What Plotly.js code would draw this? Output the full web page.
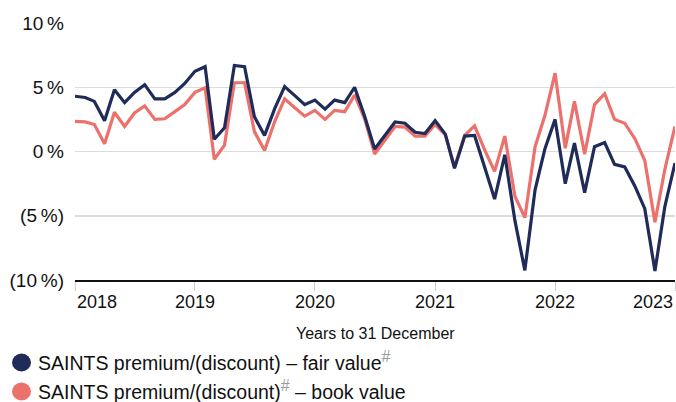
<!DOCTYPE html>
<html>
<head>
<meta charset="utf-8">
<script src="https://cdn.plot.ly/plotly-3.0.1.min.js"></script>
<style>html,body{margin:0;padding:0;background:#fff;}#chart{width:676px;height:402px;}</style>
</head>
<body>
<div id="chart"></div>
<script>
const months = [
 "2018-01-01","2018-02-01","2018-03-01","2018-04-01","2018-05-01","2018-06-01","2018-07-01","2018-08-01","2018-09-01","2018-10-01","2018-11-01","2018-12-01",
 "2019-01-01","2019-02-01","2019-03-01","2019-04-01","2019-05-01","2019-06-01","2019-07-01","2019-08-01","2019-09-01","2019-10-01","2019-11-01","2019-12-01",
 "2020-01-01","2020-02-01","2020-03-01","2020-04-01","2020-05-01","2020-06-01","2020-07-01","2020-08-01","2020-09-01","2020-10-01","2020-11-01","2020-12-01",
 "2021-01-01","2021-02-01","2021-03-01","2021-04-01","2021-05-01","2021-06-01","2021-07-01","2021-08-01","2021-09-01","2021-10-01","2021-11-01","2021-12-01",
 "2022-01-01","2022-02-01","2022-03-01","2022-04-01","2022-05-01","2022-06-01","2022-07-01","2022-08-01","2022-09-01","2022-10-01","2022-11-01","2022-12-01",
 "2023-01-01"
];
const fairValue = [
 4.3, 4.2, 3.9, 2.4, 4.8, 3.8, 4.6, 5.2, 4.1, 4.1, 4.6, 5.3,
 6.25, 6.6, 0.95, 1.85, 6.7, 6.6, 2.7, 1.25, 3.35, 5.05, 4.35, 3.65,
 4.0, 3.3, 4.0, 3.8, 5.0, 2.7, 0.2, 1.25, 2.3, 2.2, 1.5, 1.4,
 2.4, 1.35, -1.3, 1.2, 1.25, -1.25, -3.7, -0.26, -5.4, -9.25, -3.0, 0.2,
 2.5, -2.5, 0.65, -3.2, 0.37, 0.7, -1.0, -1.2, -2.7, -4.45, -9.3, -4.3,
 -0.9
];
const bookValue = [
 2.35, 2.3, 2.1, 0.6, 3.05, 1.95, 3.0, 3.55, 2.5, 2.55, 3.1, 3.65,
 4.6, 4.95, -0.6, 0.5, 5.35, 5.35, 1.55, 0.08, 2.35, 4.1, 3.4, 2.75,
 3.2, 2.5, 3.2, 3.1, 4.4, 2.5, -0.2, 0.9, 1.95, 1.9, 1.2, 1.2,
 2.1, 1.3, -1.2, 1.25, 2.0, 0.1, -1.55, 1.2, -3.5, -5.15, 0.35, 2.8,
 6.1, 0.26, 3.9, -0.2, 3.65, 4.5, 2.5, 2.2, 1.0, -0.7, -5.5, -1.4,
 1.95
];
const yTickVals = [-10, -5, 0, 5, 10];
const yTickText = ["(10\u2009%)", "(5\u2009%)", "0\u2009%", "5\u2009%", "10\u2009%"];
const xTickVals = ["2018-01-01","2019-01-01","2020-01-01","2021-01-01","2022-01-01","2023-01-01"];
const xTickText = ["2018","2019","2020","2021","2022","2023"];
const HASH = "<sup><span style=\"color:#9a9a9a;font-size:16px\">#</span></sup>";
const seriesNames = ["SAINTS premium/(discount) – fair value" + HASH,
                     "SAINTS premium/(discount)" + HASH + " – book value"];
const colors = ["#1f2b59", "#ec706b"];
const xTitle = "Years to 31 December";

const FONT = "Liberation Sans, Arial, Helvetica, sans-serif";

const traces = [
  {x: months, y: bookValue, type: "scatter", mode: "lines", line: {color: colors[1], width: 3.2}, showlegend: false},
  {x: months, y: fairValue, type: "scatter", mode: "lines", line: {color: colors[0], width: 3.2}, showlegend: false}
];

const plotH = 402 - 23 - 122;
function py(Y){ return (280 - Y) / plotH; }
function px(X){ return (X - 75) / 600; }

const annotations = [];
xTickVals.forEach((v, i) => {
  let anchor = "center";
  if (i === 0) anchor = "left";
  if (i === xTickVals.length - 1) anchor = "right";
  annotations.push({x: v, xref: "x", y: py(302), yref: "paper", text: xTickText[i], showarrow: false,
    xanchor: anchor, yanchor: "middle", font: {family: FONT, size: 18, color: "#111"}});
});
annotations.push({x: 0.5, xref: "paper", y: py(333), yref: "paper", text: xTitle, showarrow: false,
  xanchor: "center", yanchor: "middle", font: {family: FONT, size: 16, color: "#111"}});
const legY = [362.5, 391.5];
const legendOrder = [0, 1];
const shapes = [];
legendOrder.forEach((k, i) => {
  annotations.push({x: px(36), xref: "paper", y: py(legY[i]), yref: "paper", text: seriesNames[k], showarrow: false,
    xanchor: "left", yanchor: "middle", yshift: 1.5, font: {family: FONT, size: 19.5, color: "#111"}});
  shapes.push({type: "circle", xref: "paper", yref: "paper", xsizemode: "pixel", ysizemode: "pixel",
    xanchor: px(21.5), yanchor: py(legY[i]), x0: -9.5, x1: 9.5, y0: -9, y1: 9,
    fillcolor: colors[k], line: {width: 0}});
});

const layout = {
  width: 676, height: 402,
  margin: {l: 75, r: 1, t: 23, b: 122},
  paper_bgcolor: "#fff", plot_bgcolor: "#fff",
  font: {family: FONT, size: 18, color: "#111"},
  hovermode: false,
  xaxis: {
    type: "date",
    range: ["2018-01-01", "2023-01-01"],
    tickvals: xTickVals, ticktext: xTickText, showticklabels: false,
    ticks: "outside", ticklen: 9, tickwidth: 1, tickcolor: "#cfcfcf",
    showgrid: false, zeroline: false,
    showline: true, linecolor: "#111", linewidth: 2
  },
  yaxis: {
    range: [-10, 10],
    tickvals: yTickVals, ticktext: yTickText,
    ticks: "", ticklabelstandoff: 10,
    showgrid: true, gridcolor: "#dcdcdc", gridwidth: 1.5,
    zeroline: false, showline: false,
    tickfont: {family: FONT, size: 19, color: "#111"}
  },
  annotations: annotations,
  shapes: shapes
};

Plotly.newPlot("chart", traces, layout, {staticPlot: true, displayModeBar: false});
</script>
</body>
</html>
